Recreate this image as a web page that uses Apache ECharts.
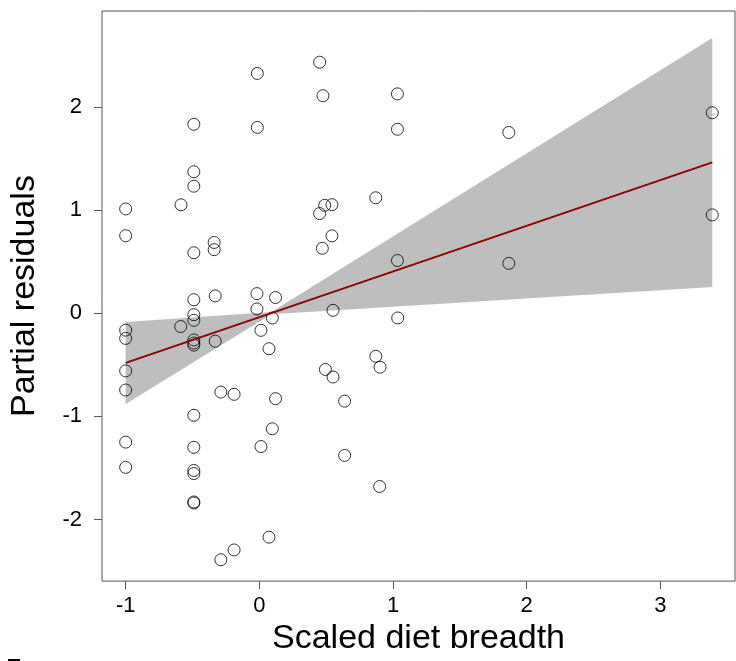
<!DOCTYPE html>
<html>
<head>
<meta charset="utf-8">
<script src="https://cdn.jsdelivr.net/npm/echarts@6/dist/echarts.min.js"></script>
<style>
  html, body { margin: 0; padding: 0; background: #fff; }
  #main { width: 736px; height: 661px; }
</style>
</head>
<body>
<div id="main"></div>
<script type="text/javascript">
	// 数据 -------------------
	var pointX = [
		-1, -1, -1, -1, -1, -1, -1, -1,
		-0.586, -0.588,
		-0.49, -0.49, -0.49, -0.49, -0.49, -0.49, -0.49, -0.49, -0.49, -0.49, -0.49, -0.49, -0.49, -0.49, -0.49, -0.49,
		-0.338, -0.338, -0.33, -0.33,
		-0.288, -0.189, -0.288, -0.189,
		-0.015, -0.015, -0.018, -0.018, 0.012, 0.012, 0.072, 0.072, 0.097, 0.097, 0.121, 0.121,
		0.451, 0.476, 0.451, 0.471, 0.489, 0.494, 0.543, 0.543, 0.551, 0.551, 0.638, 0.638,
		0.871, 0.871, 0.903, 0.9,
		1.033, 1.033, 1.033, 1.035,
		1.866, 1.866,
		3.388, 3.388
	];
	var pointY = [
		1.01, 0.75, -0.165, -0.245, -0.56, -0.745, -1.25, -1.495,
		1.05, -0.13,
		1.83, 1.37, 1.23, 0.585, 0.13, -0.015, -0.07, -0.26, -0.29, -0.31, -0.99, -1.30, -1.525, -1.555, -1.83, -1.84,
		0.685, 0.615, 0.167, -0.272,
		-0.765, -0.787, -2.39, -2.295,
		2.323, 1.80, 0.189, 0.04, -0.167, -1.293, -0.345, -2.171, -0.047, -1.121, 0.151, -0.829,
		2.432, 2.107, 0.965, 0.628, 1.045, -0.546, 1.051, 0.749, 0.027, -0.619, -0.853, -1.379,
		1.118, -0.418, -0.524, -1.68,
		2.125, 1.782, 0.51, -0.047,
		1.751, 0.482,
		1.942, 0.952
	];
	// 拟合线
	var fitX = [-1, 3.388];
	var fitY = [-0.482, 1.461];
	// 置信带
	var bandX = [-1, 0.09, 3.388];
	var bandLower = [-0.88, -0.01, 0.253];
	var bandUpper = [-0.085, 0.01, 2.667];
	// 刻度
	var xTicks = [-1, 0, 1, 2, 3];
	var yTicks = [-2, -1, 0, 1, 2];

	var points = pointX.map(function (x, i) { return [x, pointY[i]]; });
	var fitLine = fitX.map(function (x, i) { return [x, fitY[i]]; });
	var bandData = bandX.map(function (x, i) { return [x, bandLower[i], bandUpper[i]]; });

	var font = '"Liberation Sans", Arial, sans-serif';
	var myChart = echarts.init(document.getElementById('main'));

	var option = {
		animation: false,
		grid: {
			left: 100, right: 1, top: 11, bottom: 71,
			show: true,
			borderColor: '#555',
			borderWidth: 1,
			backgroundColor: 'transparent'
		},
		xAxis: {
			type: 'value',
			min: -1.177,
			max: 3.558,
			splitLine: { show: false },
			axisLine: { show: false, onZero: false },
			axisTick: { show: true, length: 8, customValues: xTicks, lineStyle: { color: '#555' } },
			axisLabel: { customValues: xTicks, color: '#000', fontSize: 22, fontFamily: font, margin: 14 },
			name: 'Scaled diet breadth',
			nameLocation: 'middle',
			nameGap: 35,
			nameTextStyle: { color: '#000', fontSize: 34, fontFamily: font }
		},
		yAxis: {
			type: 'value',
			min: -2.597,
			max: 2.928,
			splitLine: { show: false },
			axisLine: { show: false, onZero: false },
			axisTick: { show: true, length: 8, customValues: yTicks, lineStyle: { color: '#555' } },
			axisLabel: { customValues: yTicks, color: '#000', fontSize: 22, fontFamily: font, margin: 20 },
			name: 'Partial residuals',
			nameLocation: 'middle',
			nameGap: 60,
			nameTextStyle: { color: '#000', fontSize: 34, fontFamily: font }
		},
		series: [
			{
				type: 'custom',
				silent: true,
				z: 1,
				data: bandData,
				renderItem: function (params, api) {
					if (params.dataIndex !== 0) return;
					var pts = [];
					for (var i = 0; i < bandX.length; i++) pts.push(api.coord([bandX[i], bandUpper[i]]));
					for (var j = bandX.length - 1; j >= 0; j--) pts.push(api.coord([bandX[j], bandLower[j]]));
					return {
						type: 'polygon',
						shape: { points: pts },
						style: { fill: '#BEBEBE', stroke: null }
					};
				}
			},
			{
				type: 'scatter',
				z: 3,
				data: points,
				symbol: 'circle',
				symbolSize: 12,
				itemStyle: { color: 'rgba(0,0,0,0)', borderColor: '#000', borderWidth: 1 },
				emphasis: { disabled: true }
			},
			{
				type: 'line',
				z: 4,
				data: fitLine,
				showSymbol: false,
				lineStyle: { color: '#8B0000', width: 2 },
				emphasis: { disabled: true }
			}
		],
		graphic: [
			{ type: 'rect', shape: { x: 8, y: 659, width: 12, height: 2 }, style: { fill: '#000' } }
		]
	};
	myChart.setOption(option);
</script>
</body>
</html>
